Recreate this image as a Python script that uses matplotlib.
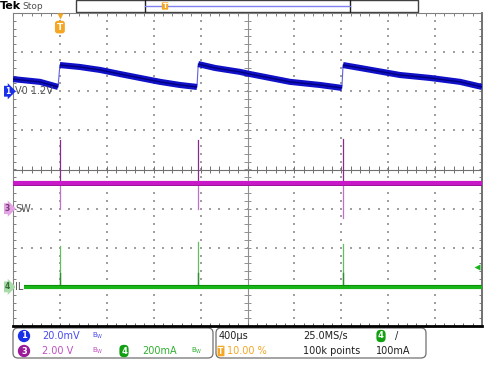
import numpy as np
import matplotlib.pyplot as plt
import matplotlib.transforms as mtransforms
from matplotlib.patches import FancyBboxPatch, Rectangle

# scope settings
t_div_us = 400          # 400 us/div
t_start_us = -400       # trigger at 10 % of the record
n_xdiv, n_ydiv = 10, 8

# CH1 "V0 1.2V": mV above 1.2 V, 20 mV/div, position +2 div
vo_t_us = [-400, -170, -16, 0, 171, 342, 513, 683, 854, 1024, 1169,
           1180, 1323, 1536, 1621, 1963, 2219, 2405,
           2415, 2560, 2901, 3157, 3413, 3600]
vo_mv = [6.2, 4.8, 2.2, 13.4, 12.4, 10.9, 8.8, 6.8, 4.8, 3.2, 2.2,
         13.9, 11.9, 9.9, 8.8, 4.8, 3.2, 1.7,
         13.4, 11.9, 8.3, 6.8, 4.8, 2.2]
vo_scale, vo_pos = 20.0, 2.0

# CH3 "SW": volts, 2 V/div, position -1 div
sw_level_v = 1.3
sw_scale, sw_pos = 2.0, -1.0

# CH4 "IL": mA, 200 mA/div, position -3 div
il_level_ma = 0.0
il_scale, il_pos = 200.0, -3.0
il_trig_ma = 100.0

# switching events
spike_t_us = [0, 1178, 2412]
sw_peak_v = [3.5, 3.5, 3.55]
sw_dip_v = [0.0, 0.0, -0.5]
il_peak_ma = [210, 230, 220]

blue, blue_dark = '#1010c8', '#00007a'
mag, mag_dark = '#c818c8', '#8a2a8a'
green, green_dark = '#18b418', '#2f8f2f'
orange = '#f5a623'
grid_c = '#a0a0a0'

plt.rcParams['font.family'] = ['DejaVu Sans']
fig = plt.figure(figsize=(5, 3.75), dpi=100)

# overlay in pixel units for the screen chrome
ov = fig.add_axes([0, 0, 1, 1], zorder=0)
ov.set_xlim(0, 500)
ov.set_ylim(375, 0)
ov.axis('off')

ax = fig.add_axes([13 / 500, 1 - 326 / 375, 469 / 500, 313 / 375], zorder=1)
t_end = t_start_us + n_xdiv * t_div_us
ax.set_xlim(t_start_us, t_end)
ax.set_ylim(-n_ydiv / 2, n_ydiv / 2)
ax.set_xticks([])
ax.set_yticks([])
for s in ['top', 'left']:
    ax.spines[s].set_color('#808080')
    ax.spines[s].set_linewidth(0.8)
ax.spines['right'].set_color('#707070')
ax.spines['right'].set_linewidth(1.4)
ax.spines['bottom'].set_color('black')
ax.spines['bottom'].set_linewidth(2)

# graticule
t_center = t_start_us + n_xdiv / 2 * t_div_us
ydots = np.arange(-4, 4.001, 0.2)
xdots = np.arange(t_start_us, t_end + 1, t_div_us / 5)
for i in range(1, n_xdiv):
    x = t_start_us + i * t_div_us
    if x == t_center:
        ax.axvline(x, color='#909090', lw=0.8, zorder=1)
    else:
        ax.scatter(np.full(ydots.size, x), ydots, s=0.6, c=grid_c, marker='s',
                   linewidths=0, zorder=1)
for j in range(-3, 4):
    if j == 0:
        ax.axhline(0, color='#707070', lw=0.8, zorder=1)
    else:
        ax.scatter(xdots, np.full(xdots.size, j), s=0.6, c=grid_c, marker='s',
                   linewidths=0, zorder=1)
tx, ty = 28, 0.08
ax.vlines(xdots, -ty, ty, color='#707070', lw=0.7, zorder=1)
ax.hlines(ydots, t_center - tx, t_center + tx, color='#909090', lw=0.7, zorder=1)
ax.vlines(xdots, 4 - ty, 4, color='#808080', lw=0.7, zorder=1)
ax.vlines(xdots, -4, -4 + ty, color='#606060', lw=0.7, zorder=1)
ax.hlines(ydots, t_start_us, t_start_us + tx, color='#808080', lw=0.7, zorder=1)
ax.hlines(ydots, t_end - tx, t_end, color='#808080', lw=0.7, zorder=1)

# CH1 trace, split at the jumps
vt = np.array(vo_t_us, float)
vy = np.array(vo_mv) / vo_scale + vo_pos
cuts = np.where(np.diff(vt) < 20)[0] + 1
for seg_t, seg_y in zip(np.split(vt, cuts), np.split(vy, cuts)):
    ax.plot(seg_t, seg_y, color=blue, lw=4.4, solid_capstyle='butt', zorder=4)
    ax.plot(seg_t, seg_y, color=blue_dark, lw=1.0, solid_capstyle='butt', zorder=4)
for k in cuts:
    ax.plot([vt[k - 1], vt[k]], [vy[k - 1], vy[k]], color='#6060e0', lw=0.8, zorder=3)

# CH3 trace and spikes
sw_y = sw_level_v / sw_scale + sw_pos
ax.plot([t_start_us, t_end], [sw_y, sw_y], color=mag, lw=3.0, zorder=4)
ax.plot([t_start_us, t_end], [sw_y - 0.04, sw_y - 0.04], color='#9a109a', lw=0.7, zorder=4)
for t, pk, dp in zip(spike_t_us, sw_peak_v, sw_dip_v):
    ax.plot([t, t], [sw_y, pk / sw_scale + sw_pos], color=mag_dark, lw=0.9, zorder=3)
    ax.plot([t, t], [sw_y, dp / sw_scale + sw_pos], color='#c070c8', lw=0.9, zorder=3)

# CH4 trace and spikes
il_y = il_level_ma / il_scale + il_pos
ax.plot([t_start_us + 80, t_end], [il_y, il_y], color=green, lw=3.0, zorder=4)
ax.plot([t_start_us + 80, t_end], [il_y + 0.04, il_y + 0.04], color='#0a8a0a', lw=0.6, zorder=4)
for t, pk in zip(spike_t_us, il_peak_ma):
    ax.plot([t, t], [il_y, pk / il_scale + il_pos], color='#60c060', lw=0.9, zorder=3)
    ax.plot([t, t], [il_y, il_y + 0.35], color=green_dark, lw=1.0, zorder=3)

# trigger level marker on the right
ax.plot(t_end - 45, il_trig_ma / il_scale + il_pos, marker='<', color=green, ms=5,
        mec='none', zorder=5, clip_on=False)

# trigger position marker at the top
tr = mtransforms.blended_transform_factory(ax.transData, ax.transAxes)
ax.plot(0, 0.99, marker='v', color=orange, ms=4, mec='none', transform=tr, clip_on=False, zorder=6)
ax.text(0, 0.955, 'T', transform=tr, ha='center', va='center', color='white',
        fontsize=6.5, fontweight='bold', zorder=6,
        bbox=dict(boxstyle='round,pad=0.2,rounding_size=0.3', fc=orange, ec='none'))

# channel markers and labels on the left
ly = ax.get_yaxis_transform()
markers = [('1', vo_pos, '#1a30e8', 'white', 'V0 1.2V'),
           ('3', sw_pos, '#e2a4e2', '#7a3a7a', 'SW'),
           ('4', il_pos, '#a8dca8', '#3a6a3a', 'IL')]
for num, pos, fc, tc, lab in markers:
    ax.text(-0.006, pos, num, transform=ly, ha='right', va='center', fontsize=5.5,
            color=tc, fontweight='bold', clip_on=False, zorder=6,
            bbox=dict(boxstyle='rarrow,pad=0.12', fc=fc, ec='none'))
    ax.text(0.005, pos, lab, transform=ly, ha='left', va='center', fontsize=7,
            color='#505050', zorder=6,
            bbox=dict(boxstyle='square,pad=0.05', fc='white', ec='none') if num == '4' else None)

# top bar
ov.text(0, 6, 'Tek', fontsize=8, fontweight='bold', va='center', ha='left')
ov.text(22, 6.5, 'Stop', fontsize=6.5, color='#505050', va='center', ha='left')
ov.add_patch(Rectangle((76, 0), 342, 12, fc='white', ec='#404040', lw=1))
ov.plot([145, 145], [0, 12], color='#202020', lw=1)
ov.plot([350, 350], [0, 12], color='#202020', lw=1)
ov.plot([145, 350], [5.5, 5.5], color='#8080f0', lw=1)
ov.text(165, 6, 'T', fontsize=5, color='white', fontweight='bold', ha='center', va='center',
        bbox=dict(boxstyle='round,pad=0.1', fc=orange, ec='none'))

# info boxes at the bottom
for x0, w in [(13, 200), (216, 210)]:
    ov.add_patch(FancyBboxPatch((x0, 328), w, 30, boxstyle='round,pad=0,rounding_size=5',
                                fc='white', ec='#707070', lw=0.9))
r1, r2 = 336, 351
fs = 7
ov.text(24, r1, '1', fontsize=6, color='white', ha='center', va='center', fontweight='bold',
        bbox=dict(boxstyle='circle,pad=0.2', fc='#1a30e8', ec='none'))
ov.text(42, r1, '20.0mV', fontsize=fs, color='#4a4af0', va='center')
ov.text(92, r1, r'$\mathrm{B}_\mathrm{W}$', fontsize=5, color='#4a4af0', va='center')
ov.text(24, r2, '3', fontsize=6, color='white', ha='center', va='center', fontweight='bold',
        bbox=dict(boxstyle='circle,pad=0.2', fc='#9a1a9a', ec='none'))
ov.text(42, r2, '2.00 V', fontsize=fs, color='#c050c0', va='center')
ov.text(92, r2, r'$\mathrm{B}_\mathrm{W}$', fontsize=5, color='#c050c0', va='center')
ov.text(124, r2, '4', fontsize=6, color='white', ha='center', va='center', fontweight='bold',
        bbox=dict(boxstyle='round,pad=0.2,rounding_size=0.5', fc='#10a010', ec='none'))
ov.text(142, r2, '200mA', fontsize=fs, color='#30b030', va='center')
ov.text(191, r2, r'$\mathrm{B}_\mathrm{W}$', fontsize=5, color='#30b030', va='center')

ov.text(219, r1, '400µs', fontsize=fs, color='#202020', va='center')
ov.text(221, r2, 'T', fontsize=5.5, color='white', ha='center', va='center', fontweight='bold',
        bbox=dict(boxstyle='round,pad=0.1', fc=orange, ec='none'))
ov.text(227, r2, '10.00 %', fontsize=fs, color=orange, va='center')
ov.text(303, r1, '25.0MS/s', fontsize=fs, color='#202020', va='center')
ov.text(303, r2, '100k points', fontsize=fs, color='#202020', va='center')
ov.text(381, r1, '4', fontsize=6, color='white', ha='center', va='center', fontweight='bold',
        bbox=dict(boxstyle='round,pad=0.2,rounding_size=0.5', fc='#10a010', ec='none'))
ov.text(395, r1, '/', fontsize=fs, color='#202020', va='center')
ov.text(376, r2, '100mA', fontsize=fs, color='#202020', va='center')

fig.savefig('out.png', dpi=100, facecolor='white')
